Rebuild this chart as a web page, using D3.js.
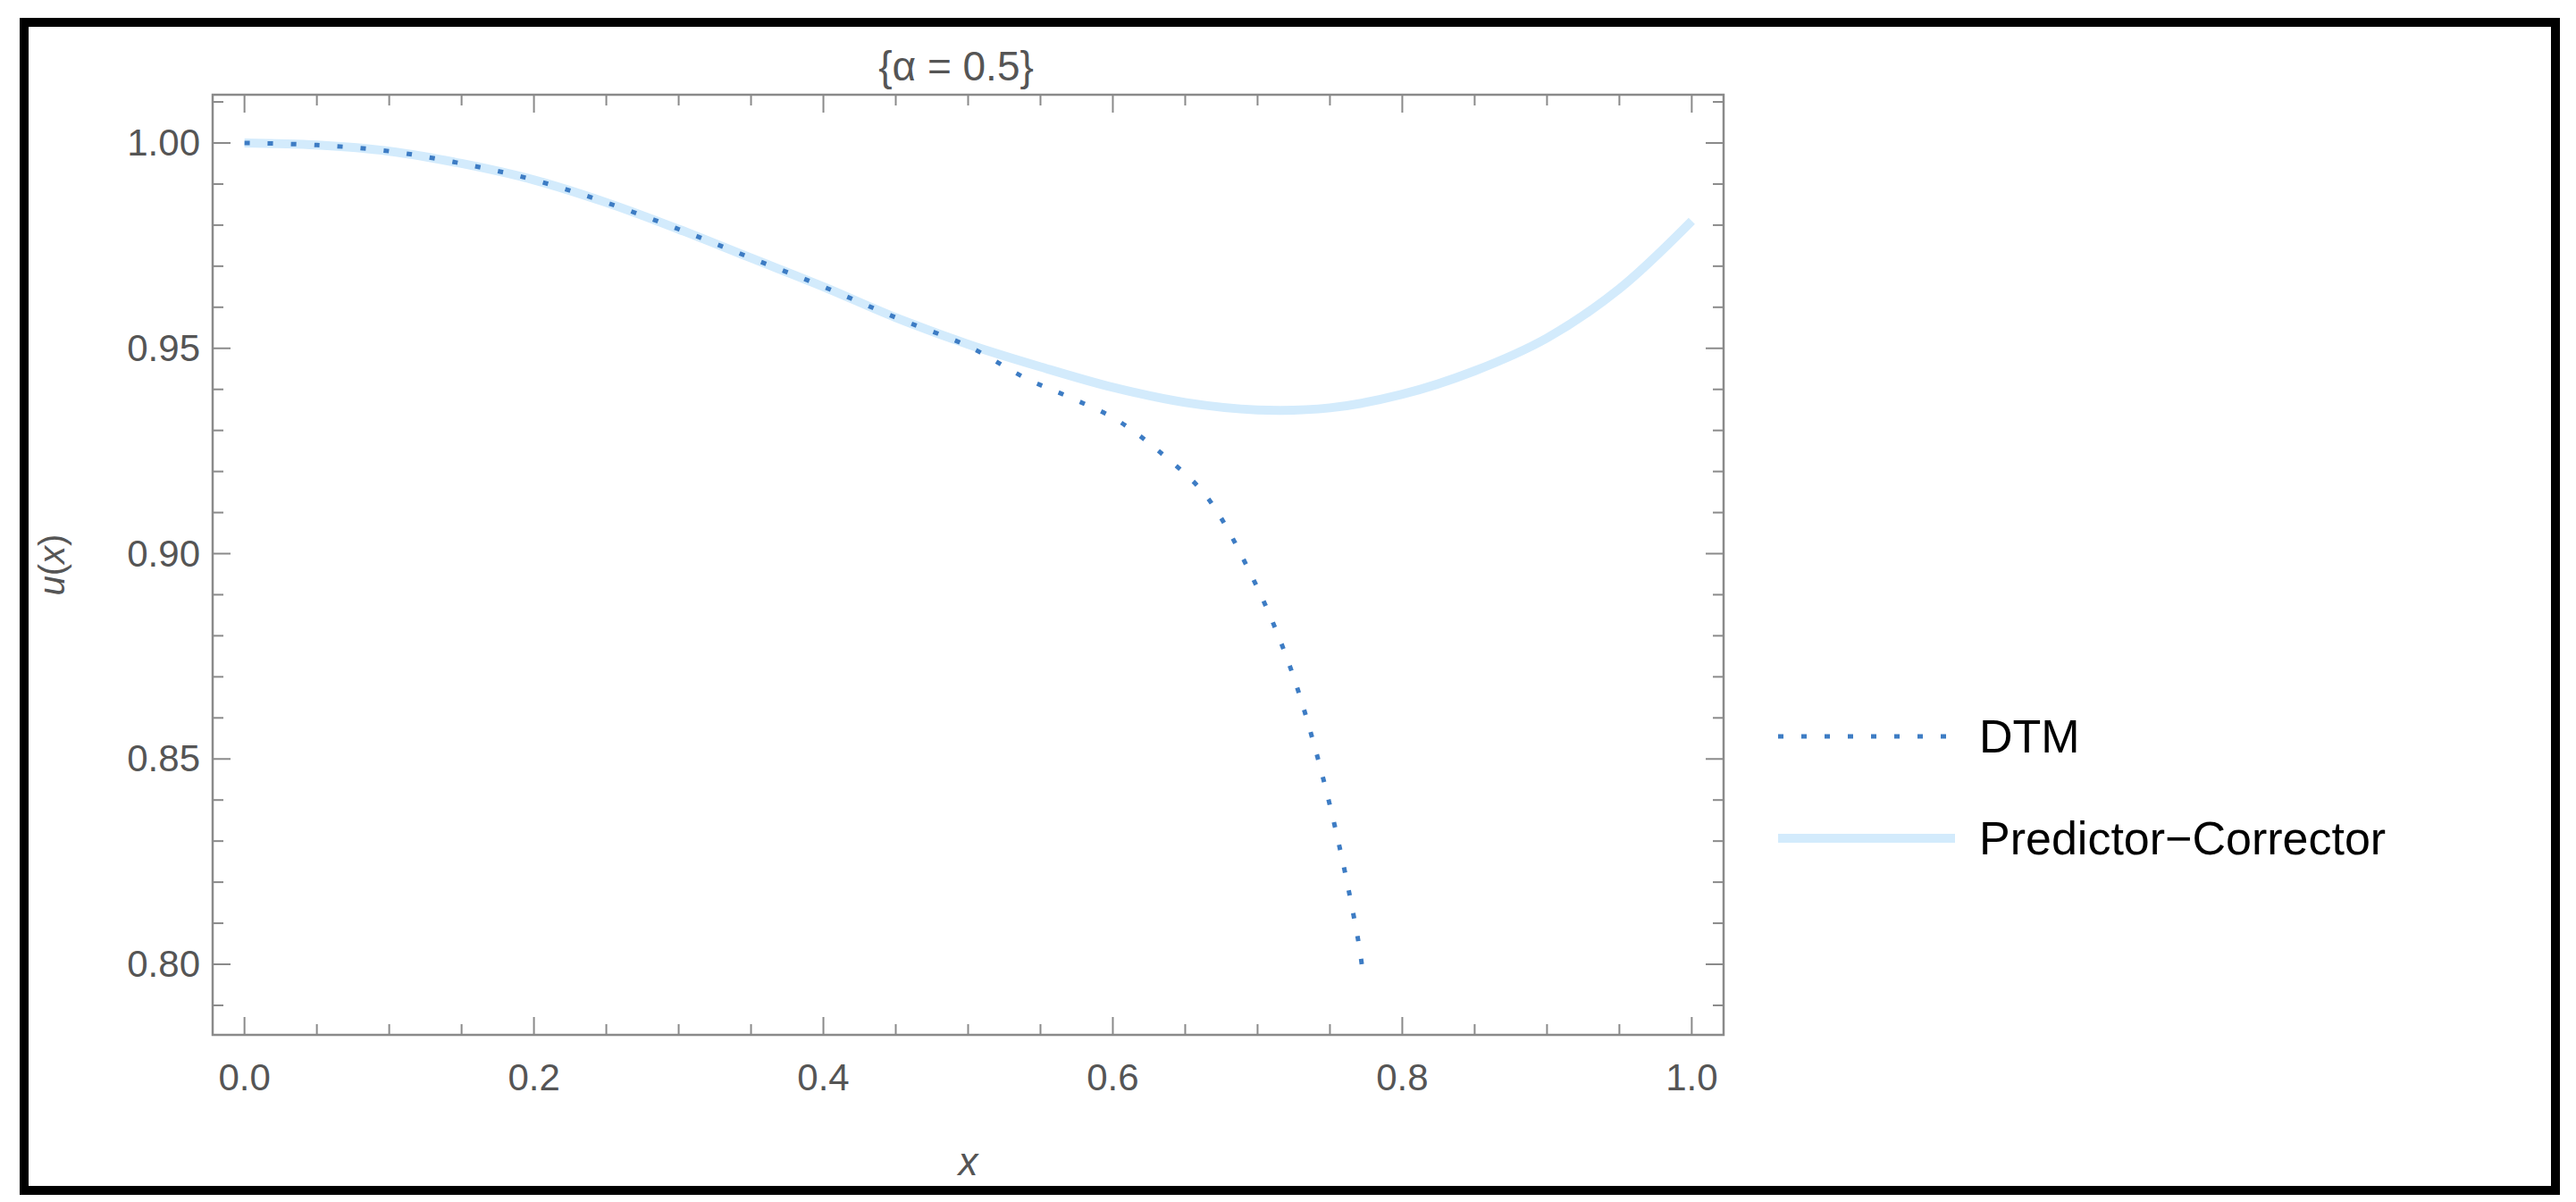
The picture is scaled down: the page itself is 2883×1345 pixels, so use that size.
<!DOCTYPE html><html><head><meta charset="utf-8">
<script src="https://cdn.jsdelivr.net/npm/d3@7"></script>
<style>body{margin:0;background:#fff}svg{display:block}text{font-family:"Liberation Sans",Arial,sans-serif}</style></head><body>
<svg id="c" width="2883" height="1345"></svg>
<script>
const pcX=[0,0.05,0.1,0.15,0.2,0.25,0.3,0.35,0.4,0.45,0.5,0.55,0.6,0.65,0.7,0.75,0.8,0.85,0.9,0.95,1.0];
const pcY=[1.0,0.9995,0.998,0.995,0.991,0.9855,0.979,0.972,0.965,0.9575,0.951,0.9455,0.9405,0.9368,0.935,0.9355,0.9388,0.9445,0.9525,0.9645,0.981];
const dtmX=[0,0.05,0.1,0.15,0.2,0.25,0.3,0.35,0.4,0.45,0.5,0.541,0.572,0.603,0.635,0.665,0.697,0.722,0.741,0.757,0.7696,0.772];
const dtmY=[1.0,0.9995,0.998,0.995,0.991,0.9855,0.979,0.972,0.965,0.9575,0.9505,0.9425,0.9378,0.9325,0.924,0.9138,0.8938,0.8729,0.851,0.828,0.8057,0.80];
const xTicks=[0,0.2,0.4,0.6,0.8,1.0];
const yTicks=[0.80,0.85,0.90,0.95,1.00];
const svg=d3.select("#c");
svg.append("rect").attr("x",27).attr("y",25).attr("width",2833).attr("height",1307).attr("fill","none").attr("stroke","#000").attr("stroke-width",10);
const L=238,R=1929,T=106,B=1158;
const x=d3.scaleLinear().domain([-0.022,1.022]).range([L,R]);
const y=d3.scaleLinear().domain([0.78281,1.01175]).range([B,T]);
const g=svg.append("g");
const gray="#8a8a8a",lab="#555";
g.append("rect").attr("x",L).attr("y",T).attr("width",R-L).attr("height",B-T).attr("fill","none").attr("stroke",gray).attr("stroke-width",2.5);
const xMinor=d3.range(0,1.0001,0.05), yMinor=d3.range(0.79,1.0101,0.01);
const isMajX=v=>Math.abs(v*5-Math.round(v*5))<1e-6, isMajY=v=>Math.abs(v*20-Math.round(v*20))<1e-6;
xMinor.forEach(v=>{const l=isMajX(v)?20:12;
 g.append("line").attr("x1",x(v)).attr("x2",x(v)).attr("y1",B).attr("y2",B-l).attr("stroke",gray).attr("stroke-width",2);
 g.append("line").attr("x1",x(v)).attr("x2",x(v)).attr("y1",T).attr("y2",T+l).attr("stroke",gray).attr("stroke-width",2);});
yMinor.forEach(v=>{const l=isMajY(v)?20:12;
 g.append("line").attr("y1",y(v)).attr("y2",y(v)).attr("x1",L).attr("x2",L+l).attr("stroke",gray).attr("stroke-width",2);
 g.append("line").attr("y1",y(v)).attr("y2",y(v)).attr("x1",R).attr("x2",R-l).attr("stroke",gray).attr("stroke-width",2);});
xTicks.forEach(v=>g.append("text").attr("x",x(v)).attr("y",B+62).attr("text-anchor","middle").attr("font-size",42).attr("fill",lab).text(v.toFixed(1)));
yTicks.forEach(v=>g.append("text").attr("x",L-14).attr("y",y(v)+14).attr("text-anchor","end").attr("font-size",42).attr("fill",lab).text(v.toFixed(2)));
const line=d3.line().curve(d3.curveCatmullRom);
g.append("path").attr("d",line(pcX.map((v,i)=>[x(v),y(pcY[i])]))).attr("fill","none").attr("stroke","#d3ebfc").attr("stroke-width",10);
g.append("path").attr("d",line(dtmX.map((v,i)=>[x(v),y(dtmY[i])]))).attr("fill","none").attr("stroke","#3d7cc4").attr("stroke-width",5).attr("stroke-dasharray","6 20");
svg.append("text").attr("x",1070).attr("y",90).attr("text-anchor","middle").attr("font-size",46).attr("fill",lab).text("{α = 0.5}");
svg.append("text").attr("x",(L+R)/2).attr("y",1315).attr("text-anchor","middle").attr("font-size",44).attr("font-style","italic").attr("fill",lab).text("x");
svg.append("text").attr("transform","translate(72,"+((T+B)/2)+") rotate(-90)").attr("text-anchor","middle").attr("font-size",40).attr("fill",lab).html('<tspan font-style="italic">u</tspan>(<tspan font-style="italic">x</tspan>)');
svg.append("line").attr("x1",1990).attr("x2",2188).attr("y1",824).attr("y2",824).attr("stroke","#3d7cc4").attr("stroke-width",5).attr("stroke-dasharray","6 20");
svg.append("line").attr("x1",1990).attr("x2",2188).attr("y1",938).attr("y2",938).attr("stroke","#d3ebfc").attr("stroke-width",10);
svg.append("text").attr("x",2215).attr("y",842).attr("font-size",52).attr("fill","#000").text("DTM");
svg.append("text").attr("x",2215).attr("y",956).attr("font-size",52).attr("fill","#000").text("Predictor−Corrector");
</script></body></html>
